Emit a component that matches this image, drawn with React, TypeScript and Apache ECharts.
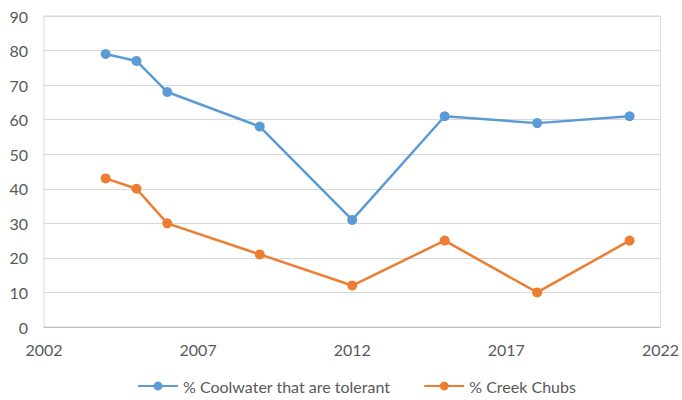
import React, { useEffect, useRef } from "react";
import * as echarts from "echarts";

const years = [2004, 2005, 2006, 2009, 2012, 2015, 2018, 2021];
const coolwaterTolerant = [79, 77, 68, 58, 31, 61, 59, 61];
const creekChubs = [43, 40, 30, 21, 12, 25, 10, 25];
const seriesNames = ["% Coolwater that are tolerant", "% Creek Chubs"];
const seriesColors = ["#5B9BD5", "#ED7D31"];

export default function App() {
  const ref = useRef<HTMLDivElement>(null);
  useEffect(() => {
    if (!ref.current) return;
    const chart = echarts.init(ref.current, undefined, { renderer: "svg" });
    const font = "Lato, 'Open Sans', sans-serif";
    const mk = (name: string, vals: number[], color: string) => ({
      name,
      type: "line",
      data: years.map((y, i) => [y, vals[i]]),
      symbol: "circle",
      symbolSize: 10,
      lineStyle: { width: 2.5, color },
      itemStyle: { color },
    });
    chart.setOption({
      animation: false,
      backgroundColor: "#ffffff",
      grid: {
        left: 44,
        right: 17,
        top: 16,
        bottom: 73,
        show: true,
        borderColor: "#d9d9d9",
        borderWidth: 1,
      },
      xAxis: {
        type: "value",
        min: 2002,
        max: 2022,
        interval: 5,
        axisLine: { show: true, lineStyle: { color: "#bfbfbf", width: 1 } },
        axisTick: { show: false },
        splitLine: { show: false },
        axisLabel: {
          color: "#595959",
          fontSize: 16,
          fontFamily: font,
          margin: 14,
          formatter: (v: number) => String(v),
        },
      },
      yAxis: {
        type: "value",
        min: 0,
        max: 90,
        interval: 10,
        axisLine: { show: false },
        axisTick: { show: false },
        splitLine: { show: true, lineStyle: { color: "#d9d9d9", width: 1 } },
        axisLabel: {
          color: "#595959",
          fontSize: 16,
          fontFamily: font,
          margin: 16,
        },
      },
      legend: {
        bottom: 1,
        left: 132,
        itemWidth: 40,
        itemHeight: 11,
        itemGap: 33,
        textStyle: { color: "#595959", fontSize: 16, fontFamily: font },
        data: seriesNames,
      },
      series: [
        mk(seriesNames[0], coolwaterTolerant, seriesColors[0]),
        mk(seriesNames[1], creekChubs, seriesColors[1]),
      ],
    });
    return () => chart.dispose();
  }, []);
  return (
    <div
      ref={ref}
      style={{ position: "fixed", left: 0, top: 0, width: 682, height: 400 }}
    />
  );
}
